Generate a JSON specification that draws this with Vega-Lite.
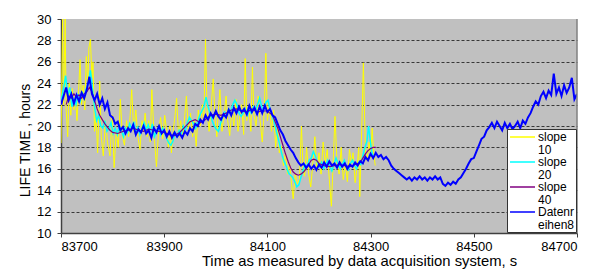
{
  "$schema": "https://vega.github.io/schema/vega-lite/v6.json",
  "width": 516,
  "height": 214,
  "autosize": {"type": "none"},
  "padding": {"left": 61, "top": 19, "right": 36, "bottom": 37},
  "background": "white",
  "config": {
    "font": "Liberation Sans",
    "view": {"fill": "#C0C0C0", "stroke": null},
    "style": {"guide-label": {"lineHeight": 12.5}}
  },
  "datasets": {
    "y10": [
      {"x":83700,"y":18.4},{"x":83703,"y":30},{"x":83705,"y":22},{"x":83708,"y":30},{"x":83710,"y":21.5},{"x":83713,"y":19.0},{"x":83716,"y":24.0},{"x":83719,"y":21.0},{"x":83722,"y":23.5},{"x":83725,"y":21.5},{"x":83728,"y":22.8},{"x":83731,"y":20.5},{"x":83734,"y":23.2},{"x":83737,"y":26.2},{"x":83740,"y":22.0},{"x":83743,"y":23.8},{"x":83746,"y":21.5},{"x":83749,"y":26.5},{"x":83752,"y":24.0},{"x":83754,"y":27.3},{"x":83757,"y":28.1},{"x":83760,"y":24.5},{"x":83762,"y":26.0},{"x":83765,"y":19.5},{"x":83768,"y":21.0},{"x":83771,"y":17.5},{"x":83775,"y":24.2},{"x":83778,"y":19.0},{"x":83782,"y":17.2},{"x":83786,"y":20.5},{"x":83790,"y":18.5},{"x":83795,"y":17.2},{"x":83799,"y":21.0},{"x":83803,"y":16.1},{"x":83807,"y":19.5},{"x":83811,"y":18.0},{"x":83815,"y":22.5},{"x":83819,"y":19.0},{"x":83823,"y":18.2},{"x":83827,"y":20.5},{"x":83831,"y":19.0},{"x":83834,"y":21.0},{"x":83837,"y":23.4},{"x":83841,"y":19.5},{"x":83845,"y":21.5},{"x":83849,"y":19.0},{"x":83853,"y":17.8},{"x":83857,"y":20.5},{"x":83860,"y":19.5},{"x":83863,"y":21.2},{"x":83867,"y":19.0},{"x":83870,"y":20.5},{"x":83873,"y":18.5},{"x":83876,"y":23.4},{"x":83880,"y":19.5},{"x":83885,"y":16.2},{"x":83889,"y":19.5},{"x":83893,"y":20.8},{"x":83897,"y":18.8},{"x":83901,"y":21.0},{"x":83905,"y":19.5},{"x":83908,"y":18.0},{"x":83911,"y":20.0},{"x":83914,"y":17.5},{"x":83918,"y":19.8},{"x":83921,"y":21.0},{"x":83924,"y":22.6},{"x":83928,"y":19.0},{"x":83932,"y":20.5},{"x":83936,"y":18.8},{"x":83940,"y":21.0},{"x":83943,"y":22.8},{"x":83947,"y":19.5},{"x":83951,"y":21.2},{"x":83955,"y":19.0},{"x":83958,"y":20.5},{"x":83962,"y":18.1},{"x":83966,"y":21.5},{"x":83970,"y":20.0},{"x":83974,"y":22.0},{"x":83977,"y":20.5},{"x":83980,"y":28.1},{"x":83983,"y":21.5},{"x":83987,"y":19.5},{"x":83991,"y":21.8},{"x":83995,"y":24.4},{"x":83999,"y":20.5},{"x":84002,"y":19.0},{"x":84005,"y":21.5},{"x":84008,"y":23.4},{"x":84012,"y":19.5},{"x":84016,"y":21.0},{"x":84020,"y":22.8},{"x":84023,"y":20.5},{"x":84027,"y":19.1},{"x":84031,"y":21.5},{"x":84035,"y":20.0},{"x":84039,"y":22.5},{"x":84043,"y":19.5},{"x":84047,"y":21.0},{"x":84050,"y":22.0},{"x":84054,"y":19.2},{"x":84057,"y":26.3},{"x":84060,"y":20.5},{"x":84064,"y":21.8},{"x":84068,"y":19.5},{"x":84071,"y":25.5},{"x":84074,"y":21.0},{"x":84078,"y":20.0},{"x":84082,"y":22.8},{"x":84086,"y":20.5},{"x":84090,"y":18.5},{"x":84094,"y":21.5},{"x":84097,"y":26.8},{"x":84100,"y":20.5},{"x":84104,"y":22.0},{"x":84108,"y":19.5},{"x":84112,"y":21.5},{"x":84116,"y":18.0},{"x":84120,"y":20.0},{"x":84123,"y":17.5},{"x":84127,"y":18.1},{"x":84131,"y":16.3},{"x":84135,"y":17.5},{"x":84139,"y":15.5},{"x":84143,"y":16.5},{"x":84147,"y":14.5},{"x":84150,"y":13.2},{"x":84154,"y":15.5},{"x":84158,"y":14.6},{"x":84162,"y":15.0},{"x":84166,"y":20.0},{"x":84169,"y":16.0},{"x":84172,"y":15.3},{"x":84176,"y":18.0},{"x":84180,"y":15.5},{"x":84184,"y":14.3},{"x":84188,"y":16.5},{"x":84192,"y":19.0},{"x":84196,"y":15.8},{"x":84200,"y":17.5},{"x":84204,"y":15.5},{"x":84208,"y":18.5},{"x":84212,"y":16.5},{"x":84216,"y":17.8},{"x":84220,"y":15.0},{"x":84224,"y":12.5},{"x":84227,"y":16.0},{"x":84231,"y":20.9},{"x":84235,"y":16.5},{"x":84239,"y":15.5},{"x":84243,"y":18.0},{"x":84247,"y":15.0},{"x":84251,"y":16.5},{"x":84255,"y":14.8},{"x":84259,"y":17.8},{"x":84263,"y":16.5},{"x":84266,"y":17.5},{"x":84270,"y":14.7},{"x":84274,"y":16.2},{"x":84277,"y":18.0},{"x":84279,"y":13.4},{"x":84283,"y":20.0},{"x":84286,"y":25.9},{"x":84290,"y":17.5},{"x":84293,"y":16.8},{"x":84297,"y":18.5},{"x":84300,"y":17.0},{"x":84303,"y":19.8},{"x":84306,"y":17.5},{"x":84309,"y":16.3}
    ],
    "y20": [
      {"x":83700,"y":22.3},{"x":83705,"y":23.5},{"x":83709,"y":24.7},{"x":83713,"y":22.8},{"x":83717,"y":23.6},{"x":83721,"y":21.8},{"x":83725,"y":22.5},{"x":83729,"y":22.0},{"x":83733,"y":23.0},{"x":83737,"y":22.2},{"x":83741,"y":23.2},{"x":83745,"y":22.6},{"x":83749,"y":23.5},{"x":83753,"y":24.0},{"x":83757,"y":25.2},{"x":83761,"y":23.5},{"x":83765,"y":21.8},{"x":83769,"y":20.5},{"x":83773,"y":21.0},{"x":83777,"y":20.0},{"x":83781,"y":19.8},{"x":83785,"y":20.5},{"x":83789,"y":19.5},{"x":83793,"y":19.8},{"x":83797,"y":20.3},{"x":83801,"y":19.3},{"x":83805,"y":19.8},{"x":83809,"y":19.2},{"x":83813,"y":20.0},{"x":83817,"y":19.6},{"x":83821,"y":19.0},{"x":83825,"y":19.8},{"x":83829,"y":19.4},{"x":83833,"y":20.2},{"x":83837,"y":19.7},{"x":83841,"y":20.4},{"x":83845,"y":19.5},{"x":83849,"y":19.9},{"x":83853,"y":19.2},{"x":83857,"y":19.8},{"x":83861,"y":20.3},{"x":83865,"y":19.6},{"x":83869,"y":20.1},{"x":83873,"y":19.4},{"x":83877,"y":20.2},{"x":83881,"y":19.0},{"x":83885,"y":19.5},{"x":83889,"y":19.9},{"x":83893,"y":19.2},{"x":83897,"y":19.8},{"x":83901,"y":19.4},{"x":83905,"y":18.8},{"x":83909,"y":18.4},{"x":83913,"y":18.2},{"x":83917,"y":18.6},{"x":83921,"y":19.4},{"x":83925,"y":19.0},{"x":83929,"y":19.6},{"x":83933,"y":19.3},{"x":83937,"y":20.0},{"x":83941,"y":19.6},{"x":83945,"y":20.3},{"x":83949,"y":20.8},{"x":83953,"y":20.5},{"x":83957,"y":20.2},{"x":83961,"y":19.8},{"x":83965,"y":20.4},{"x":83969,"y":21.0},{"x":83973,"y":21.4},{"x":83977,"y":21.8},{"x":83981,"y":22.7},{"x":83985,"y":21.8},{"x":83989,"y":21.2},{"x":83993,"y":20.5},{"x":83997,"y":20.0},{"x":84001,"y":19.7},{"x":84005,"y":19.5},{"x":84009,"y":20.2},{"x":84013,"y":20.8},{"x":84017,"y":21.3},{"x":84021,"y":21.0},{"x":84025,"y":21.6},{"x":84029,"y":21.4},{"x":84033,"y":22.0},{"x":84037,"y":22.4},{"x":84041,"y":22.0},{"x":84045,"y":21.2},{"x":84049,"y":20.9},{"x":84053,"y":21.2},{"x":84057,"y":21.6},{"x":84061,"y":21.0},{"x":84065,"y":21.5},{"x":84069,"y":21.2},{"x":84073,"y":21.8},{"x":84077,"y":21.4},{"x":84081,"y":22.0},{"x":84085,"y":22.6},{"x":84089,"y":21.8},{"x":84093,"y":21.4},{"x":84097,"y":22.2},{"x":84101,"y":22.4},{"x":84105,"y":21.6},{"x":84109,"y":21.0},{"x":84113,"y":20.4},{"x":84117,"y":19.6},{"x":84121,"y":18.8},{"x":84125,"y":18.0},{"x":84129,"y":17.2},{"x":84133,"y":16.6},{"x":84137,"y":16.2},{"x":84141,"y":15.6},{"x":84145,"y":15.4},{"x":84149,"y":15.2},{"x":84153,"y":14.8},{"x":84157,"y":14.3},{"x":84161,"y":14.5},{"x":84165,"y":15.2},{"x":84169,"y":15.8},{"x":84173,"y":16.4},{"x":84177,"y":16.2},{"x":84181,"y":16.8},{"x":84185,"y":17.0},{"x":84189,"y":17.6},{"x":84193,"y":17.2},{"x":84197,"y":16.6},{"x":84201,"y":16.2},{"x":84205,"y":16.6},{"x":84209,"y":16.0},{"x":84213,"y":16.4},{"x":84217,"y":16.8},{"x":84221,"y":16.2},{"x":84225,"y":15.8},{"x":84229,"y":16.4},{"x":84233,"y":17.0},{"x":84237,"y":16.5},{"x":84241,"y":16.0},{"x":84245,"y":16.4},{"x":84249,"y":16.8},{"x":84253,"y":16.2},{"x":84257,"y":15.9},{"x":84261,"y":16.5},{"x":84265,"y":16.8},{"x":84269,"y":16.3},{"x":84273,"y":16.0},{"x":84277,"y":16.6},{"x":84281,"y":16.4},{"x":84285,"y":17.2},{"x":84289,"y":18.0},{"x":84293,"y":18.6},{"x":84296,"y":20.0},{"x":84299,"y":18.8},{"x":84302,"y":17.6},{"x":84305,"y":17.2}
    ],
    "y40": [
      {"x":83710,"y":22.0},{"x":83715,"y":22.8},{"x":83720,"y":22.6},{"x":83725,"y":23.0},{"x":83730,"y":22.7},{"x":83735,"y":22.9},{"x":83740,"y":22.6},{"x":83745,"y":23.0},{"x":83750,"y":23.2},{"x":83755,"y":23.6},{"x":83760,"y":23.2},{"x":83765,"y":22.4},{"x":83770,"y":21.6},{"x":83775,"y":21.0},{"x":83780,"y":20.6},{"x":83785,"y":20.2},{"x":83790,"y":19.9},{"x":83795,"y":19.6},{"x":83800,"y":19.4},{"x":83810,"y":19.3},{"x":83820,"y":19.5},{"x":83830,"y":19.6},{"x":83840,"y":19.8},{"x":83850,"y":19.6},{"x":83860,"y":19.5},{"x":83870,"y":19.7},{"x":83880,"y":19.6},{"x":83890,"y":19.5},{"x":83900,"y":19.4},{"x":83910,"y":19.2},{"x":83920,"y":19.1},{"x":83930,"y":19.4},{"x":83940,"y":19.9},{"x":83950,"y":20.4},{"x":83960,"y":20.6},{"x":83970,"y":20.3},{"x":83980,"y":20.6},{"x":83990,"y":21.0},{"x":84000,"y":21.1},{"x":84010,"y":21.0},{"x":84020,"y":21.2},{"x":84030,"y":21.5},{"x":84040,"y":21.6},{"x":84050,"y":21.4},{"x":84060,"y":21.3},{"x":84070,"y":21.6},{"x":84080,"y":21.3},{"x":84090,"y":21.4},{"x":84100,"y":21.4},{"x":84110,"y":21.0},{"x":84115,"y":20.4},{"x":84120,"y":19.8},{"x":84125,"y":19.0},{"x":84130,"y":18.2},{"x":84135,"y":17.4},{"x":84140,"y":16.7},{"x":84145,"y":16.1},{"x":84150,"y":15.7},{"x":84155,"y":15.5},{"x":84160,"y":15.4},{"x":84165,"y":15.5},{"x":84170,"y":15.7},{"x":84175,"y":16.0},{"x":84180,"y":16.4},{"x":84185,"y":16.8},{"x":84190,"y":16.9},{"x":84195,"y":16.8},{"x":84200,"y":16.5},{"x":84210,"y":16.3},{"x":84220,"y":16.2},{"x":84230,"y":16.3},{"x":84240,"y":16.4},{"x":84250,"y":16.3},{"x":84260,"y":16.2},{"x":84270,"y":16.4},{"x":84280,"y":16.6},{"x":84285,"y":17.0},{"x":84290,"y":17.4},{"x":84295,"y":17.7},{"x":84300,"y":17.9},{"x":84305,"y":18.0},{"x":84310,"y":18.0}
    ],
    "d8": [
      {"x":83700,"y":22.0},{"x":83705,"y":22.8},{"x":83710,"y":23.6},{"x":83715,"y":22.4},{"x":83720,"y":23.0},{"x":83725,"y":22.1},{"x":83730,"y":22.9},{"x":83735,"y":22.3},{"x":83740,"y":23.1},{"x":83745,"y":22.6},{"x":83750,"y":23.4},{"x":83755,"y":24.6},{"x":83760,"y":23.0},{"x":83765,"y":22.4},{"x":83770,"y":23.0},{"x":83775,"y":22.0},{"x":83780,"y":22.6},{"x":83785,"y":21.6},{"x":83790,"y":22.2},{"x":83795,"y":21.0},{"x":83800,"y":20.8},{"x":83805,"y":20.2},{"x":83810,"y":20.4},{"x":83815,"y":19.6},{"x":83820,"y":19.9},{"x":83825,"y":19.3},{"x":83830,"y":19.8},{"x":83835,"y":19.5},{"x":83840,"y":20.1},{"x":83845,"y":19.2},{"x":83850,"y":19.7},{"x":83855,"y":19.4},{"x":83860,"y":20.0},{"x":83865,"y":19.3},{"x":83870,"y":19.6},{"x":83875,"y":18.9},{"x":83880,"y":19.8},{"x":83885,"y":19.4},{"x":83890,"y":20.0},{"x":83895,"y":19.3},{"x":83900,"y":19.6},{"x":83905,"y":19.0},{"x":83910,"y":19.5},{"x":83915,"y":18.9},{"x":83920,"y":19.4},{"x":83925,"y":19.0},{"x":83930,"y":19.3},{"x":83935,"y":18.9},{"x":83940,"y":19.5},{"x":83945,"y":19.2},{"x":83950,"y":19.8},{"x":83955,"y":19.5},{"x":83960,"y":20.2},{"x":83965,"y":20.0},{"x":83970,"y":20.6},{"x":83975,"y":20.3},{"x":83980,"y":21.0},{"x":83985,"y":20.6},{"x":83990,"y":21.2},{"x":83995,"y":20.8},{"x":84000,"y":21.4},{"x":84005,"y":20.9},{"x":84010,"y":20.6},{"x":84015,"y":21.1},{"x":84020,"y":20.8},{"x":84025,"y":21.5},{"x":84030,"y":21.0},{"x":84035,"y":21.7},{"x":84040,"y":21.2},{"x":84045,"y":21.8},{"x":84050,"y":21.3},{"x":84055,"y":21.6},{"x":84060,"y":21.1},{"x":84065,"y":21.9},{"x":84070,"y":21.3},{"x":84075,"y":21.7},{"x":84080,"y":21.1},{"x":84085,"y":21.8},{"x":84090,"y":21.2},{"x":84095,"y":21.9},{"x":84100,"y":21.3},{"x":84105,"y":21.6},{"x":84110,"y":21.0},{"x":84115,"y":20.8},{"x":84120,"y":20.2},{"x":84125,"y":19.6},{"x":84130,"y":19.2},{"x":84135,"y":18.6},{"x":84140,"y":18.2},{"x":84145,"y":17.8},{"x":84150,"y":17.5},{"x":84155,"y":17.0},{"x":84160,"y":16.6},{"x":84165,"y":16.3},{"x":84170,"y":16.5},{"x":84175,"y":16.1},{"x":84180,"y":16.4},{"x":84185,"y":16.0},{"x":84190,"y":16.3},{"x":84195,"y":15.9},{"x":84200,"y":16.4},{"x":84205,"y":16.1},{"x":84210,"y":16.6},{"x":84215,"y":16.2},{"x":84220,"y":16.7},{"x":84225,"y":16.3},{"x":84230,"y":16.5},{"x":84235,"y":16.1},{"x":84240,"y":16.6},{"x":84245,"y":16.2},{"x":84250,"y":16.5},{"x":84255,"y":16.0},{"x":84260,"y":16.4},{"x":84265,"y":16.2},{"x":84270,"y":16.6},{"x":84275,"y":16.3},{"x":84280,"y":16.7},{"x":84285,"y":16.5},{"x":84290,"y":17.1},{"x":84295,"y":16.8},{"x":84300,"y":17.4},{"x":84305,"y":17.0},{"x":84310,"y":17.5},{"x":84315,"y":17.1},{"x":84320,"y":17.3},{"x":84325,"y":16.9},{"x":84330,"y":17.1},{"x":84335,"y":16.8},{"x":84340,"y":16.3},{"x":84345,"y":16.0},{"x":84350,"y":15.8},{"x":84355,"y":15.6},{"x":84360,"y":15.4},{"x":84365,"y":15.2},{"x":84370,"y":15.0},{"x":84375,"y":15.2},{"x":84380,"y":14.9},{"x":84385,"y":15.2},{"x":84390,"y":15.0},{"x":84395,"y":15.3},{"x":84400,"y":15.0},{"x":84405,"y":15.2},{"x":84410,"y":14.9},{"x":84415,"y":15.2},{"x":84420,"y":15.0},{"x":84425,"y":15.3},{"x":84430,"y":15.0},{"x":84435,"y":15.2},{"x":84440,"y":14.6},{"x":84445,"y":14.4},{"x":84450,"y":14.7},{"x":84455,"y":14.5},{"x":84460,"y":14.8},{"x":84465,"y":14.6},{"x":84470,"y":15.0},{"x":84475,"y":15.2},{"x":84480,"y":15.6},{"x":84485,"y":16.0},{"x":84490,"y":16.5},{"x":84495,"y":16.9},{"x":84500,"y":17.0},{"x":84505,"y":17.6},{"x":84510,"y":18.2},{"x":84515,"y":18.8},{"x":84520,"y":19.0},{"x":84525,"y":19.6},{"x":84530,"y":19.9},{"x":84535,"y":20.3},{"x":84540,"y":19.8},{"x":84545,"y":20.4},{"x":84550,"y":20.0},{"x":84555,"y":19.6},{"x":84560,"y":20.3},{"x":84565,"y":19.8},{"x":84570,"y":20.2},{"x":84575,"y":19.7},{"x":84580,"y":20.0},{"x":84585,"y":20.4},{"x":84590,"y":19.8},{"x":84595,"y":20.5},{"x":84600,"y":20.2},{"x":84605,"y":20.8},{"x":84610,"y":21.2},{"x":84615,"y":21.8},{"x":84620,"y":22.3},{"x":84625,"y":22.0},{"x":84630,"y":22.8},{"x":84635,"y":23.2},{"x":84640,"y":22.6},{"x":84645,"y":23.3},{"x":84650,"y":22.9},{"x":84655,"y":24.9},{"x":84660,"y":23.0},{"x":84665,"y":23.6},{"x":84670,"y":22.8},{"x":84675,"y":23.8},{"x":84680,"y":23.1},{"x":84685,"y":23.6},{"x":84690,"y":24.5},{"x":84695,"y":22.5},{"x":84700,"y":23.0}
    ]
  },
  "encoding": {
    "x": {
      "field": "x", "type": "quantitative",
      "scale": {"domain": [83700, 84700], "nice": false, "zero": false},
      "axis": {
        "values": [83700, 83900, 84100, 84300, 84500, 84700],
        "format": "d",
        "grid": false,
        "labelOverlap": false,
        "labelFontSize": 13, "labelColor": "#000", "labelPadding": 3,
        "tickSize": 4, "tickColor": "#404040",
        "domainColor": "#404040", "domainWidth": 1.5,
        "title": "Time as measured by data acquisition system, s",
        "titleFontSize": 14.8, "titleFontWeight": "normal", "titleColor": "#000",
        "titlePadding": 0, "titleX": 298
      }
    },
    "y": {
      "field": "y", "type": "quantitative",
      "scale": {"domain": [10, 30], "nice": false, "zero": false},
      "axis": {
        "values": [10, 12, 14, 16, 18, 20, 22, 24, 26, 28, 30],
        "grid": true,
        "labelOverlap": false,
        "gridColor": {"condition": {"test": "datum.value == 10 || datum.value == 30", "value": "transparent"}, "value": "#383838"},
        "gridDash": [3, 2],
        "gridWidth": 1,
        "labelFontSize": 13, "labelColor": "#000", "labelPadding": 6,
        "tickSize": 4, "tickColor": "#404040",
        "domainColor": "#404040", "domainWidth": 1.5,
        "title": "LIFE TIME , hours",
        "titleFontSize": 14, "titleFontWeight": "normal", "titleColor": "#000",
        "titlePadding": 4, "titleY": 121
      }
    }
  },
  "layer": [
    {
      "data": {"name": "y10"},
      "mark": {"type": "line", "strokeWidth": 1, "clip": true},
      "encoding": {
        "color": {
          "datum": "slope 10",
          "type": "nominal",
          "scale": {
            "domain": ["slope 10", "slope 20", "slope 40", "Datenreihen8"],
            "range": ["#FFFF00", "#00FFFF", "#800080", "#0000FF"]
          },
          "legend": {
            "title": null,
            "orient": "bottom-right",
            "offset": 1,
            "fillColor": "white",
            "strokeColor": "#333",
            "padding": 1.5,
            "symbolType": "M-2.27,0H2.27",
            "symbolSize": 121,
            "symbolStrokeWidth": 1.5,
            "symbolOffset": 7.5,
            "labelFontSize": 12,
            "labelColor": "#000",
            "labelOffset": 9,
            "labelLimit": 60,
            "rowPadding": 0,
            "labelExpr": "datum.label == 'Datenreihen8' ? ['Datenr', 'eihen8'] : split(datum.label, ' ')"
          }
        }
      }
    },
    {
      "data": {"name": "y20"},
      "mark": {"type": "line", "strokeWidth": 1.5, "clip": true},
      "encoding": {"color": {"datum": "slope 20", "type": "nominal"}}
    },
    {
      "data": {"name": "y40"},
      "mark": {"type": "line", "strokeWidth": 1.2, "clip": true},
      "encoding": {"color": {"datum": "slope 40", "type": "nominal"}}
    },
    {
      "data": {"name": "d8"},
      "mark": {"type": "line", "strokeWidth": 2, "clip": true},
      "encoding": {"color": {"datum": "Datenreihen8", "type": "nominal"}}
    },
    {
      "data": {"values": [{"edge": 84700}]},
      "mark": {"type": "rule", "color": "#808080", "strokeWidth": 1.5},
      "encoding": {"x": {"field": "edge", "type": "quantitative"}, "y": null}
    }
  ]
}
